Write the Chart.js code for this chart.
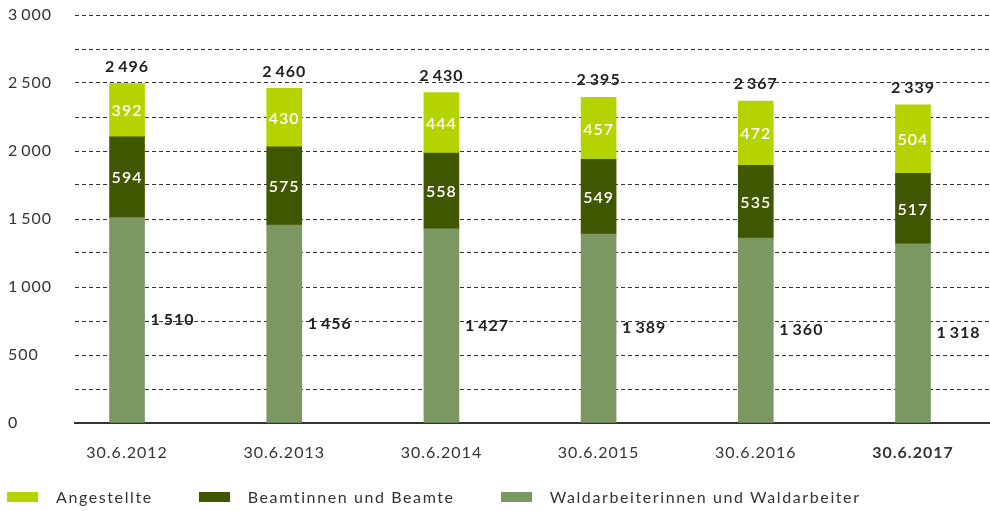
<!DOCTYPE html>
<html lang="de">
<head>
<meta charset="UTF-8" />
<title>Beschäftigte</title>
<script src="https://cdn.jsdelivr.net/npm/chart.js@4.4.1/dist/chart.umd.min.js"></script>
<style>
  html, body { margin: 0; padding: 0; background: #fff; }
  #wrap { position: relative; width: 990px; height: 511px; }
  #legend {
    position: absolute; left: 7px; top: 487px;
    display: flex; align-items: center;
    font: 16px Lato, sans-serif; letter-spacing: 1.6px; color: #333;
  }
  #legend span.box { display: inline-block; width: 31px; height: 10px; margin-right: 18px; }
  #legend span.item { display: inline-flex; align-items: center; margin-right: 46px; }
</style>
</head>
<body>
<div id="wrap">
  <canvas id="chart" width="990" height="511"></canvas>
  <div id="legend"></div>
</div>
<script>
var dates = ["30.6.2012", "30.6.2013", "30.6.2014", "30.6.2015", "30.6.2016", "30.6.2017"];
var waldarbeiter = [1510, 1456, 1427, 1389, 1360, 1318];
var beamte = [594, 575, 558, 549, 535, 517];
var angestellte = [392, 430, 444, 457, 472, 504];
var totals = [2496, 2460, 2430, 2395, 2367, 2339];

var seriesNames = ["Angestellte", "Beamtinnen und Beamte", "Waldarbeiterinnen und Waldarbeiter"];
var seriesColors = ["#b5d300", "#3f5700", "#7b9862"];

function fmt(n) {
  var s = String(n);
  return s.length > 3 ? s.slice(0, -3) + "\u2009" + s.slice(-3) : s;
}

function points(values) {
  return values.map(function (v, i) { return { x: i, y: v }; });
}

// value labels: inside for the upper two segments, beside the bar for the lowest one, totals on top
var valueLabels = {
  id: "valueLabels",
  afterDatasetsDraw: function (chart) {
    var ctx = chart.ctx;
    ctx.save();
    ctx.letterSpacing = "1px";
    ctx.textBaseline = "middle";
    chart.data.datasets.forEach(function (ds, di) {
      var meta = chart.getDatasetMeta(di);
      meta.data.forEach(function (bar, i) {
        var mid = (bar.y + bar.base) / 2;
        if (di === 0) {
          ctx.fillStyle = "#222";
          ctx.font = "bold 16px Lato, sans-serif";
          ctx.textAlign = "left";
          ctx.fillText(fmt(ds.data[i].y), bar.x + bar.width / 2 + 6, mid);
        } else {
          ctx.fillStyle = "#fff";
          ctx.font = "600 16px Lato, sans-serif";
          ctx.textAlign = "center";
          ctx.fillText(fmt(ds.data[i].y), bar.x, mid + 1);
        }
      });
    });
    var yScale = chart.scales.y;
    var xScale = chart.scales.x;
    ctx.fillStyle = "#222";
    ctx.font = "bold 16px Lato, sans-serif";
    ctx.textAlign = "center";
    totals.forEach(function (t, i) {
      ctx.fillText(fmt(t), xScale.getPixelForValue(i), yScale.getPixelForValue(t) - 17);
    });
    ctx.restore();
  }
};

var spacing = {
  id: "spacing",
  beforeDraw: function (chart) { chart.ctx.letterSpacing = "1px"; }
};

new Chart(document.getElementById("chart"), {
  type: "bar",
  data: {
    datasets: [
      { label: seriesNames[2], data: points(waldarbeiter), backgroundColor: seriesColors[2] },
      { label: seriesNames[1], data: points(beamte), backgroundColor: seriesColors[1] },
      { label: seriesNames[0], data: points(angestellte), backgroundColor: seriesColors[0] }
    ]
  },
  options: {
    responsive: false,
    animation: false,
    barThickness: 35,
    layout: { padding: { left: 8, top: 15, right: 0, bottom: 0 } },
    plugins: { legend: { display: false }, tooltip: { enabled: false } },
    scales: {
      x: {
        type: "linear",
        stacked: true,
        offset: false,
        bounds: "data",
        min: -0.331,
        max: 5.49,
        afterBuildTicks: function (scale) {
          scale.ticks = dates.map(function (d, i) { return { value: i }; });
        },
        afterFit: function (scale) { scale.height = 88; },
        grid: { display: false, drawTicks: false, offset: false },
        border: { display: true, color: "#333", width: 2 },
        ticks: {
          padding: 20,
          maxRotation: 0,
          autoSkip: false,
          color: "#333",
          font: function (c) {
            return { family: "Lato, sans-serif", size: 16, weight: c.index === 5 ? "bold" : "normal" };
          },
          callback: function (v) { return dates[v]; }
        }
      },
      y: {
        stacked: true,
        min: 0,
        max: 3000,
        z: 1,
        afterFit: function (scale) { scale.width = 67; },
        grid: { color: "#333", lineWidth: 1, drawTicks: false },
        border: { display: false, dash: [4, 3] },
        ticks: {
          stepSize: 250,
          crossAlign: "far",
          padding: 0,
          color: "#333",
          font: { family: "Lato, sans-serif", size: 16 },
          callback: function (v) { return v % 500 === 0 ? fmt(v) : ""; }
        }
      }
    }
  },
  plugins: [spacing, valueLabels]
});

var legend = document.getElementById("legend");
seriesNames.forEach(function (name, i) {
  var item = document.createElement("span");
  item.className = "item";
  item.innerHTML = '<span class="box" style="background:' + seriesColors[i] + '"></span>' + name;
  legend.appendChild(item);
});
</script>
</body>
</html>
